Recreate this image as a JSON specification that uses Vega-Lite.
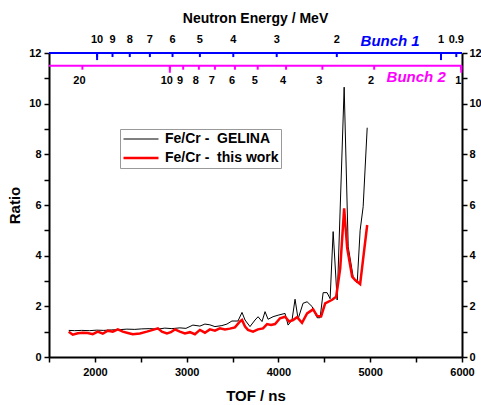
{
  "$schema": "https://vega.github.io/schema/vega-lite/v6.json",
  "width": 413,
  "height": 304,
  "autosize": "none",
  "padding": {"left": 49, "top": 53, "right": 19, "bottom": 48},
  "config": {
    "view": {"stroke": null},
    "font": "Liberation Sans",
    "text": {"font": "Liberation Sans"}
  },
  "datasets": {
    "ratio": [
      {"tof": 1715, "ratio": 1.05, "series": "Fe/Cr -\u00a0 GELINA"},
      {"tof": 1780, "ratio": 1.04, "series": "Fe/Cr -\u00a0 GELINA"},
      {"tof": 1857, "ratio": 1.05, "series": "Fe/Cr -\u00a0 GELINA"},
      {"tof": 1944, "ratio": 1.04, "series": "Fe/Cr -\u00a0 GELINA"},
      {"tof": 2020, "ratio": 1.06, "series": "Fe/Cr -\u00a0 GELINA"},
      {"tof": 2097, "ratio": 1.05, "series": "Fe/Cr -\u00a0 GELINA"},
      {"tof": 2184, "ratio": 1.07, "series": "Fe/Cr -\u00a0 GELINA"},
      {"tof": 2271, "ratio": 1.08, "series": "Fe/Cr -\u00a0 GELINA"},
      {"tof": 2348, "ratio": 1.10, "series": "Fe/Cr -\u00a0 GELINA"},
      {"tof": 2435, "ratio": 1.09, "series": "Fe/Cr -\u00a0 GELINA"},
      {"tof": 2511, "ratio": 1.11, "series": "Fe/Cr -\u00a0 GELINA"},
      {"tof": 2599, "ratio": 1.12, "series": "Fe/Cr -\u00a0 GELINA"},
      {"tof": 2686, "ratio": 1.10, "series": "Fe/Cr -\u00a0 GELINA"},
      {"tof": 2762, "ratio": 1.14, "series": "Fe/Cr -\u00a0 GELINA"},
      {"tof": 2839, "ratio": 1.12, "series": "Fe/Cr -\u00a0 GELINA"},
      {"tof": 2926, "ratio": 1.15, "series": "Fe/Cr -\u00a0 GELINA"},
      {"tof": 2992, "ratio": 1.13, "series": "Fe/Cr -\u00a0 GELINA"},
      {"tof": 3068, "ratio": 1.26, "series": "Fe/Cr -\u00a0 GELINA"},
      {"tof": 3144, "ratio": 1.22, "series": "Fe/Cr -\u00a0 GELINA"},
      {"tof": 3199, "ratio": 1.30, "series": "Fe/Cr -\u00a0 GELINA"},
      {"tof": 3253, "ratio": 1.27, "series": "Fe/Cr -\u00a0 GELINA"},
      {"tof": 3308, "ratio": 1.20, "series": "Fe/Cr -\u00a0 GELINA"},
      {"tof": 3384, "ratio": 1.24, "series": "Fe/Cr -\u00a0 GELINA"},
      {"tof": 3439, "ratio": 1.30, "series": "Fe/Cr -\u00a0 GELINA"},
      {"tof": 3493, "ratio": 1.42, "series": "Fe/Cr -\u00a0 GELINA"},
      {"tof": 3559, "ratio": 1.42, "series": "Fe/Cr -\u00a0 GELINA"},
      {"tof": 3603, "ratio": 1.76, "series": "Fe/Cr -\u00a0 GELINA"},
      {"tof": 3636, "ratio": 1.46, "series": "Fe/Cr -\u00a0 GELINA"},
      {"tof": 3690, "ratio": 1.20, "series": "Fe/Cr -\u00a0 GELINA"},
      {"tof": 3745, "ratio": 1.46, "series": "Fe/Cr -\u00a0 GELINA"},
      {"tof": 3778, "ratio": 1.59, "series": "Fe/Cr -\u00a0 GELINA"},
      {"tof": 3821, "ratio": 1.40, "series": "Fe/Cr -\u00a0 GELINA"},
      {"tof": 3854, "ratio": 1.79, "series": "Fe/Cr -\u00a0 GELINA"},
      {"tof": 3887, "ratio": 1.49, "series": "Fe/Cr -\u00a0 GELINA"},
      {"tof": 3941, "ratio": 1.59, "series": "Fe/Cr -\u00a0 GELINA"},
      {"tof": 3996, "ratio": 1.65, "series": "Fe/Cr -\u00a0 GELINA"},
      {"tof": 4072, "ratio": 1.72, "series": "Fe/Cr -\u00a0 GELINA"},
      {"tof": 4105, "ratio": 1.26, "series": "Fe/Cr -\u00a0 GELINA"},
      {"tof": 4148, "ratio": 1.46, "series": "Fe/Cr -\u00a0 GELINA"},
      {"tof": 4181, "ratio": 2.28, "series": "Fe/Cr -\u00a0 GELINA"},
      {"tof": 4214, "ratio": 1.50, "series": "Fe/Cr -\u00a0 GELINA"},
      {"tof": 4268, "ratio": 2.12, "series": "Fe/Cr -\u00a0 GELINA"},
      {"tof": 4312, "ratio": 2.18, "series": "Fe/Cr -\u00a0 GELINA"},
      {"tof": 4367, "ratio": 1.99, "series": "Fe/Cr -\u00a0 GELINA"},
      {"tof": 4421, "ratio": 1.55, "series": "Fe/Cr -\u00a0 GELINA"},
      {"tof": 4454, "ratio": 1.55, "series": "Fe/Cr -\u00a0 GELINA"},
      {"tof": 4487, "ratio": 2.54, "series": "Fe/Cr -\u00a0 GELINA"},
      {"tof": 4530, "ratio": 2.54, "series": "Fe/Cr -\u00a0 GELINA"},
      {"tof": 4563, "ratio": 2.30, "series": "Fe/Cr -\u00a0 GELINA"},
      {"tof": 4596, "ratio": 4.95, "series": "Fe/Cr -\u00a0 GELINA"},
      {"tof": 4640, "ratio": 2.25, "series": "Fe/Cr -\u00a0 GELINA"},
      {"tof": 4716, "ratio": 10.65, "series": "Fe/Cr -\u00a0 GELINA"},
      {"tof": 4760, "ratio": 4.35, "series": "Fe/Cr -\u00a0 GELINA"},
      {"tof": 4814, "ratio": 3.17, "series": "Fe/Cr -\u00a0 GELINA"},
      {"tof": 4858, "ratio": 2.92, "series": "Fe/Cr -\u00a0 GELINA"},
      {"tof": 4890, "ratio": 5.00, "series": "Fe/Cr -\u00a0 GELINA"},
      {"tof": 4923, "ratio": 5.93, "series": "Fe/Cr -\u00a0 GELINA"},
      {"tof": 4967, "ratio": 9.05, "series": "Fe/Cr -\u00a0 GELINA"},
      {"tof": 1715, "ratio": 1.00, "series": "Fe/Cr -\u00a0 this work"},
      {"tof": 1759, "ratio": 0.88, "series": "Fe/Cr -\u00a0 this work"},
      {"tof": 1813, "ratio": 0.94, "series": "Fe/Cr -\u00a0 this work"},
      {"tof": 1868, "ratio": 0.96, "series": "Fe/Cr -\u00a0 this work"},
      {"tof": 1922, "ratio": 0.95, "series": "Fe/Cr -\u00a0 this work"},
      {"tof": 1977, "ratio": 0.90, "series": "Fe/Cr -\u00a0 this work"},
      {"tof": 2031, "ratio": 1.00, "series": "Fe/Cr -\u00a0 this work"},
      {"tof": 2086, "ratio": 0.92, "series": "Fe/Cr -\u00a0 this work"},
      {"tof": 2140, "ratio": 1.04, "series": "Fe/Cr -\u00a0 this work"},
      {"tof": 2195, "ratio": 1.00, "series": "Fe/Cr -\u00a0 this work"},
      {"tof": 2250, "ratio": 1.09, "series": "Fe/Cr -\u00a0 this work"},
      {"tof": 2304, "ratio": 1.00, "series": "Fe/Cr -\u00a0 this work"},
      {"tof": 2359, "ratio": 0.95, "series": "Fe/Cr -\u00a0 this work"},
      {"tof": 2413, "ratio": 0.90, "series": "Fe/Cr -\u00a0 this work"},
      {"tof": 2490, "ratio": 0.93, "series": "Fe/Cr -\u00a0 this work"},
      {"tof": 2566, "ratio": 1.00, "series": "Fe/Cr -\u00a0 this work"},
      {"tof": 2632, "ratio": 1.07, "series": "Fe/Cr -\u00a0 this work"},
      {"tof": 2686, "ratio": 1.13, "series": "Fe/Cr -\u00a0 this work"},
      {"tof": 2730, "ratio": 1.00, "series": "Fe/Cr -\u00a0 this work"},
      {"tof": 2785, "ratio": 0.93, "series": "Fe/Cr -\u00a0 this work"},
      {"tof": 2828, "ratio": 0.98, "series": "Fe/Cr -\u00a0 this work"},
      {"tof": 2872, "ratio": 1.09, "series": "Fe/Cr -\u00a0 this work"},
      {"tof": 2926, "ratio": 1.00, "series": "Fe/Cr -\u00a0 this work"},
      {"tof": 2981, "ratio": 0.93, "series": "Fe/Cr -\u00a0 this work"},
      {"tof": 3035, "ratio": 0.98, "series": "Fe/Cr -\u00a0 this work"},
      {"tof": 3090, "ratio": 0.90, "series": "Fe/Cr -\u00a0 this work"},
      {"tof": 3144, "ratio": 1.07, "series": "Fe/Cr -\u00a0 this work"},
      {"tof": 3199, "ratio": 0.96, "series": "Fe/Cr -\u00a0 this work"},
      {"tof": 3253, "ratio": 1.09, "series": "Fe/Cr -\u00a0 this work"},
      {"tof": 3308, "ratio": 1.04, "series": "Fe/Cr -\u00a0 this work"},
      {"tof": 3362, "ratio": 1.13, "series": "Fe/Cr -\u00a0 this work"},
      {"tof": 3417, "ratio": 1.09, "series": "Fe/Cr -\u00a0 this work"},
      {"tof": 3471, "ratio": 1.12, "series": "Fe/Cr -\u00a0 this work"},
      {"tof": 3526, "ratio": 1.17, "series": "Fe/Cr -\u00a0 this work"},
      {"tof": 3581, "ratio": 1.40, "series": "Fe/Cr -\u00a0 this work"},
      {"tof": 3603, "ratio": 1.46, "series": "Fe/Cr -\u00a0 this work"},
      {"tof": 3636, "ratio": 1.20, "series": "Fe/Cr -\u00a0 this work"},
      {"tof": 3668, "ratio": 1.07, "series": "Fe/Cr -\u00a0 this work"},
      {"tof": 3723, "ratio": 1.00, "series": "Fe/Cr -\u00a0 this work"},
      {"tof": 3777, "ratio": 1.09, "series": "Fe/Cr -\u00a0 this work"},
      {"tof": 3832, "ratio": 1.13, "series": "Fe/Cr -\u00a0 this work"},
      {"tof": 3876, "ratio": 1.30, "series": "Fe/Cr -\u00a0 this work"},
      {"tof": 3919, "ratio": 1.26, "series": "Fe/Cr -\u00a0 this work"},
      {"tof": 3963, "ratio": 1.30, "series": "Fe/Cr -\u00a0 this work"},
      {"tof": 4017, "ratio": 1.53, "series": "Fe/Cr -\u00a0 this work"},
      {"tof": 4072, "ratio": 1.59, "series": "Fe/Cr -\u00a0 this work"},
      {"tof": 4116, "ratio": 1.40, "series": "Fe/Cr -\u00a0 this work"},
      {"tof": 4159, "ratio": 1.46, "series": "Fe/Cr -\u00a0 this work"},
      {"tof": 4203, "ratio": 1.57, "series": "Fe/Cr -\u00a0 this work"},
      {"tof": 4257, "ratio": 1.35, "series": "Fe/Cr -\u00a0 this work"},
      {"tof": 4312, "ratio": 1.72, "series": "Fe/Cr -\u00a0 this work"},
      {"tof": 4378, "ratio": 1.88, "series": "Fe/Cr -\u00a0 this work"},
      {"tof": 4421, "ratio": 1.62, "series": "Fe/Cr -\u00a0 this work"},
      {"tof": 4465, "ratio": 1.60, "series": "Fe/Cr -\u00a0 this work"},
      {"tof": 4509, "ratio": 2.12, "series": "Fe/Cr -\u00a0 this work"},
      {"tof": 4585, "ratio": 2.26, "series": "Fe/Cr -\u00a0 this work"},
      {"tof": 4629, "ratio": 2.38, "series": "Fe/Cr -\u00a0 this work"},
      {"tof": 4673, "ratio": 3.50, "series": "Fe/Cr -\u00a0 this work"},
      {"tof": 4716, "ratio": 5.87, "series": "Fe/Cr -\u00a0 this work"},
      {"tof": 4749, "ratio": 4.30, "series": "Fe/Cr -\u00a0 this work"},
      {"tof": 4803, "ratio": 3.17, "series": "Fe/Cr -\u00a0 this work"},
      {"tof": 4836, "ratio": 3.04, "series": "Fe/Cr -\u00a0 this work"},
      {"tof": 4890, "ratio": 2.88, "series": "Fe/Cr -\u00a0 this work"},
      {"tof": 4967, "ratio": 5.21, "series": "Fe/Cr -\u00a0 this work"}
    ],
    "bunch1": [
      {"e": "10", "tof": 2024}, {"e": "9", "tof": 2192}, {"e": "8", "tof": 2380},
      {"e": "7", "tof": 2599}, {"e": "6", "tof": 2846}, {"e": "5", "tof": 3144},
      {"e": "4", "tof": 3508}, {"e": "3", "tof": 3981}, {"e": "2", "tof": 4636},
      {"e": "1", "tof": 5771}, {"e": "0.9", "tof": 5938}
    ],
    "bunch2": [
      {"e": "20", "tof": 1864}, {"e": "10", "tof": 2817}, {"e": "9", "tof": 2962},
      {"e": "8", "tof": 3133}, {"e": "7", "tof": 3308}, {"e": "6", "tof": 3526},
      {"e": "5", "tof": 3774}, {"e": "4", "tof": 4083}, {"e": "3", "tof": 4479},
      {"e": "2", "tof": 5043}, {"e": "1", "tof": 5992}
    ],
    "one": [{}]
  },
  "resolve": {"axis": {"y": "independent"}},
  "layer": [
    {
      "data": {"name": "ratio"},
      "mark": {"type": "line", "strokeJoin": "miter"},
      "encoding": {
        "x": {
          "field": "tof", "type": "quantitative",
          "scale": {"domain": [1500, 6000], "nice": false, "zero": false},
          "axis": {
            "values": [1500, 2000, 2500, 3000, 3500, 4000, 4500, 5000, 5500, 6000],
            "format": "d",
            "labelExpr": "datum.value % 1000 === 0 ? datum.label : ''",
            "title": "TOF / ns", "titleFontSize": 15, "titleFontWeight": "bold", "titleColor": "black", "titlePadding": 11,
            "labelFontSize": 11, "labelFontWeight": "bold", "labelColor": "black", "labelPadding": 4, "labelFlush": false,
            "domainColor": "black", "domainWidth": 2, "tickColor": "black", "tickWidth": 1.5, "tickSize": 5, "grid": false
          }
        },
        "y": {
          "field": "ratio", "type": "quantitative",
          "scale": {"domain": [0, 12], "nice": false, "zero": false},
          "axis": {
            "orient": "left",
            "values": [0, 1, 2, 3, 4, 5, 6, 7, 8, 9, 10, 11, 12],
            "labelExpr": "datum.value % 2 === 0 ? datum.label : ''",
            "title": "Ratio", "titleFontSize": 15, "titleFontWeight": "bold", "titleColor": "black", "titlePadding": 6,
            "labelFontSize": 11, "labelFontWeight": "bold", "labelColor": "black", "labelPadding": 3,
            "domainColor": "black", "domainWidth": 2, "tickColor": "black", "tickWidth": 1.5, "tickSize": 5, "grid": false
          }
        },
        "color": {
          "field": "series", "type": "nominal",
          "scale": {"domain": ["Fe/Cr -\u00a0 GELINA", "Fe/Cr -\u00a0 this work"], "range": ["#000000", "#ff0000"]},
          "legend": {
            "title": null, "orient": "none", "legendX": 71, "legendY": 76,
            "strokeColor": "#999999", "padding": 2, "clipHeight": 16,
            "symbolType": "stroke", "symbolSize": 1225, "labelOffset": 5,
            "labelFontSize": 14, "labelFontWeight": "bold", "labelColor": "black", "labelFont": "Liberation Sans",
            "rowPadding": 3
          }
        },
        "strokeWidth": {
          "field": "series", "type": "nominal",
          "scale": {"type": "ordinal", "domain": ["Fe/Cr -\u00a0 GELINA", "Fe/Cr -\u00a0 this work"], "range": [1, 2.5]},
          "legend": {
            "title": null, "orient": "none", "legendX": 71, "legendY": 76,
            "strokeColor": "#999999", "padding": 2, "clipHeight": 16,
            "symbolType": "stroke", "symbolSize": 1225, "labelOffset": 5,
            "labelFontSize": 14, "labelFontWeight": "bold", "labelColor": "black", "labelFont": "Liberation Sans",
            "rowPadding": 3
          }
        }
      }
    },
    {
      "data": {"name": "one"},
      "mark": {"type": "rule", "color": "#0000ff", "strokeWidth": 2},
      "encoding": {
        "x": {"datum": 1500},
        "x2": {"datum": 6000},
        "y": {"datum": 12, "axis": {
            "orient": "right",
            "values": [0, 1, 2, 3, 4, 5, 6, 7, 8, 9, 10, 11, 12],
            "labelExpr": "datum.value % 2 === 0 ? datum.label : ''",
            "title": null,
            "labelFontSize": 11, "labelFontWeight": "bold", "labelColor": "black", "labelPadding": 2,
            "domainColor": "black", "domainWidth": 2, "tickColor": "black", "tickWidth": 1.5, "tickSize": 5, "grid": false
        }}
      }
    },
    {
      "data": {"name": "one"},
      "mark": {"type": "rule", "color": "#ff00ff", "strokeWidth": 2},
      "encoding": {
        "x": {"datum": 1500},
        "x2": {"datum": 6000},
        "y": {"datum": 11.5, "axis": null}
      }
    },
    {
      "data": {"name": "bunch1"},
      "mark": {"type": "rule", "color": "#0000ff", "strokeWidth": 2},
      "encoding": {
        "x": {"field": "tof", "type": "quantitative"},
        "y": {"datum": 12, "axis": null},
        "y2": {"datum": 11.84}
      }
    },
    {
      "data": {"name": "bunch1"},
      "transform": [{"filter": "datum.e === '10' || datum.e === '1'"}],
      "mark": {"type": "rule", "color": "#0000ff", "strokeWidth": 2},
      "encoding": {
        "x": {"field": "tof", "type": "quantitative"},
        "y": {"datum": 12, "axis": null},
        "y2": {"datum": 11.72}
      }
    },
    {
      "data": {"name": "bunch1"},
      "mark": {"type": "text", "fontSize": 11, "fontWeight": "bold", "color": "black", "dy": -13, "baseline": "middle"},
      "encoding": {
        "x": {"field": "tof", "type": "quantitative"},
        "y": {"datum": 12, "axis": null},
        "text": {"field": "e"}
      }
    },
    {
      "data": {"name": "bunch2"},
      "mark": {"type": "rule", "color": "#ff00ff", "strokeWidth": 2},
      "encoding": {
        "x": {"field": "tof", "type": "quantitative"},
        "y": {"datum": 11.5, "axis": null},
        "y2": {"datum": 11.34}
      }
    },
    {
      "data": {"name": "bunch2"},
      "transform": [{"filter": "datum.e === '10' || datum.e === '1'"}],
      "mark": {"type": "rule", "color": "#ff00ff", "strokeWidth": 2},
      "encoding": {
        "x": {"field": "tof", "type": "quantitative"},
        "y": {"datum": 11.5, "axis": null},
        "y2": {"datum": 11.22}
      }
    },
    {
      "data": {"name": "bunch2"},
      "mark": {"type": "text", "fontSize": 11, "fontWeight": "bold", "color": "black", "dy": 15.5, "dx": -3, "baseline": "middle"},
      "encoding": {
        "x": {"field": "tof", "type": "quantitative"},
        "y": {"datum": 11.5, "axis": null},
        "text": {"field": "e"}
      }
    },
    {
      "data": {"name": "one"},
      "mark": {"type": "text", "fontSize": 14, "fontWeight": "bold", "color": "black", "dy": -34, "baseline": "middle"},
      "encoding": {
        "x": {"datum": 3750},
        "y": {"datum": 12, "axis": null},
        "text": {"value": "Neutron Energy / MeV"}
      }
    },
    {
      "data": {"name": "one"},
      "mark": {"type": "text", "fontSize": 15, "fontWeight": "bold", "fontStyle": "italic", "color": "#0000ff", "dy": -12, "baseline": "middle"},
      "encoding": {
        "x": {"datum": 5217},
        "y": {"datum": 12, "axis": null},
        "text": {"value": "Bunch 1"}
      }
    },
    {
      "data": {"name": "one"},
      "mark": {"type": "text", "fontSize": 15, "fontWeight": "bold", "fontStyle": "italic", "color": "#ff00ff", "dy": 11, "baseline": "middle"},
      "encoding": {
        "x": {"datum": 5501},
        "y": {"datum": 11.5, "axis": null},
        "text": {"value": "Bunch 2"}
      }
    }
  ]
}
